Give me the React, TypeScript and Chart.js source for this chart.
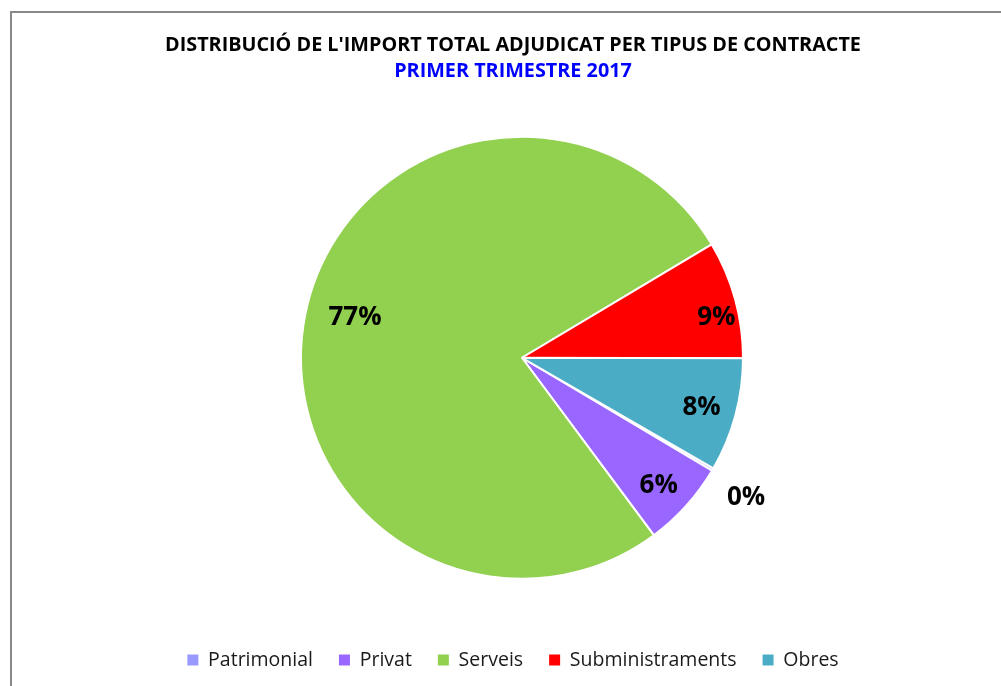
import React, { useEffect, useRef } from "react";
import { Chart, registerables, layouts } from "chart.js";

Chart.register(...registerables);

const categories: string[] = ["Patrimonial", "Privat", "Serveis", "Subministraments", "Obres"];
const shares: number[] = [0.2, 6.3, 76.6, 8.6, 8.3];
const sliceColors: string[] = ["#9999FF", "#9966FF", "#92D050", "#FF0000", "#4BACC6"];
const titleText = "DISTRIBUCIÓ DE L'IMPORT TOTAL ADJUDICAT PER TIPUS DE CONTRACTE";
const subtitleText = "PRIMER TRIMESTRE 2017";

// label placement: fraction of the radius and angular nudge (degrees)
const labelRadius: number[] = [1.19, 0.84, 0.78, 0.9, 0.84];
const labelTurn: number[] = [1.2, 0.5, 3.1, 3.1, -0.4];

const FONT = "'Open Sans', 'Liberation Sans', sans-serif";

const pctLabels = {
  id: "pctLabels",
  afterDatasetsDraw(chart: any) {
    const meta = chart.getDatasetMeta(0);
    const data = chart.data.datasets[0].data as number[];
    const total = data.reduce((a, b) => a + b, 0);
    const ctx = chart.ctx;
    ctx.save();
    ctx.font = `bold 26px ${FONT}`;
    ctx.fillStyle = "#000";
    ctx.textAlign = "center";
    ctx.textBaseline = "middle";
    meta.data.forEach((arc: any, i: number) => {
      const p = arc.getProps(["x", "y", "startAngle", "endAngle", "outerRadius"], true);
      const mid = (p.startAngle + p.endAngle) / 2 + (labelTurn[i] * Math.PI) / 180;
      const r = p.outerRadius * labelRadius[i];
      const txt = Math.round((data[i] / total) * 100) + "%";
      ctx.fillText(txt, p.x + Math.cos(mid) * r, p.y + Math.sin(mid) * r + 2.5);
    });
    ctx.restore();
  },
};

// empty left box so the pie sits slightly right of the title/legend centre
const leftSpacer = {
  id: "leftSpacer",
  beforeInit(chart: any) {
    const box: any = {
      position: "left",
      weight: 100,
      fullSize: false,
      options: { stackWeight: 1 },
      width: 0,
      height: 0,
      left: 0,
      top: 0,
      right: 0,
      bottom: 0,
      isHorizontal() {
        return false;
      },
      update(_w: number, h: number) {
        this.width = 18;
        this.height = h;
      },
      draw() {},
    };
    layouts.addBox(chart, box);
  },
};

export default function App() {
  const ref = useRef<HTMLCanvasElement | null>(null);
  useEffect(() => {
    if (!ref.current) return;
    const chart = new Chart(ref.current, {
      type: "pie",
      data: {
        labels: categories,
        datasets: [
          {
            data: shares,
            backgroundColor: sliceColors,
            borderColor: "#ffffff",
            borderWidth: 2,
          },
        ],
      },
      options: {
        responsive: false,
        animation: false,
        rotation: 120,
        radius: 221,
        layout: { padding: { left: 25, right: 0, top: 0, bottom: 6.25 } },
        plugins: {
          tooltip: { enabled: false },
          title: {
            display: true,
            text: titleText,
            color: "#000",
            font: { family: FONT, size: 19.8, weight: "bold", lineHeight: 1.2 },
            padding: { top: 33, bottom: 0 },
          },
          subtitle: {
            display: true,
            text: subtitleText,
            color: "#0000FF",
            font: { family: FONT, size: 19.8, weight: "bold", lineHeight: 1.2 },
            padding: { top: 3, bottom: 7.75 },
          },
          legend: {
            position: "bottom",
            labels: {
              boxWidth: 11,
              boxHeight: 11,
              padding: 26,
              color: "#1a1a1a",
              font: { family: FONT, size: 19.5 },
              generateLabels(chart: any) {
                const base = (Chart as any).overrides.pie.plugins.legend.labels.generateLabels(chart);
                return base.map((l: any) => ({ ...l, lineWidth: 0, strokeStyle: l.fillStyle }));
              },
            },
          },
        },
      },
      plugins: [pctLabels, leftSpacer],
    });
    return () => chart.destroy();
  }, []);

  return (
    <div style={{ position: "fixed", left: 0, top: 0, width: 1001, height: 686, background: "#fff", overflow: "hidden" }}>
      <div
        style={{
          position: "absolute",
          left: 10,
          top: 11,
          width: 2000,
          height: 2000,
          borderTop: "2px solid #888",
          borderLeft: "2px solid #888",
        }}
      />
      <canvas ref={ref} width={1001} height={686} style={{ position: "absolute", left: 0, top: 0 }} />
    </div>
  );
}
